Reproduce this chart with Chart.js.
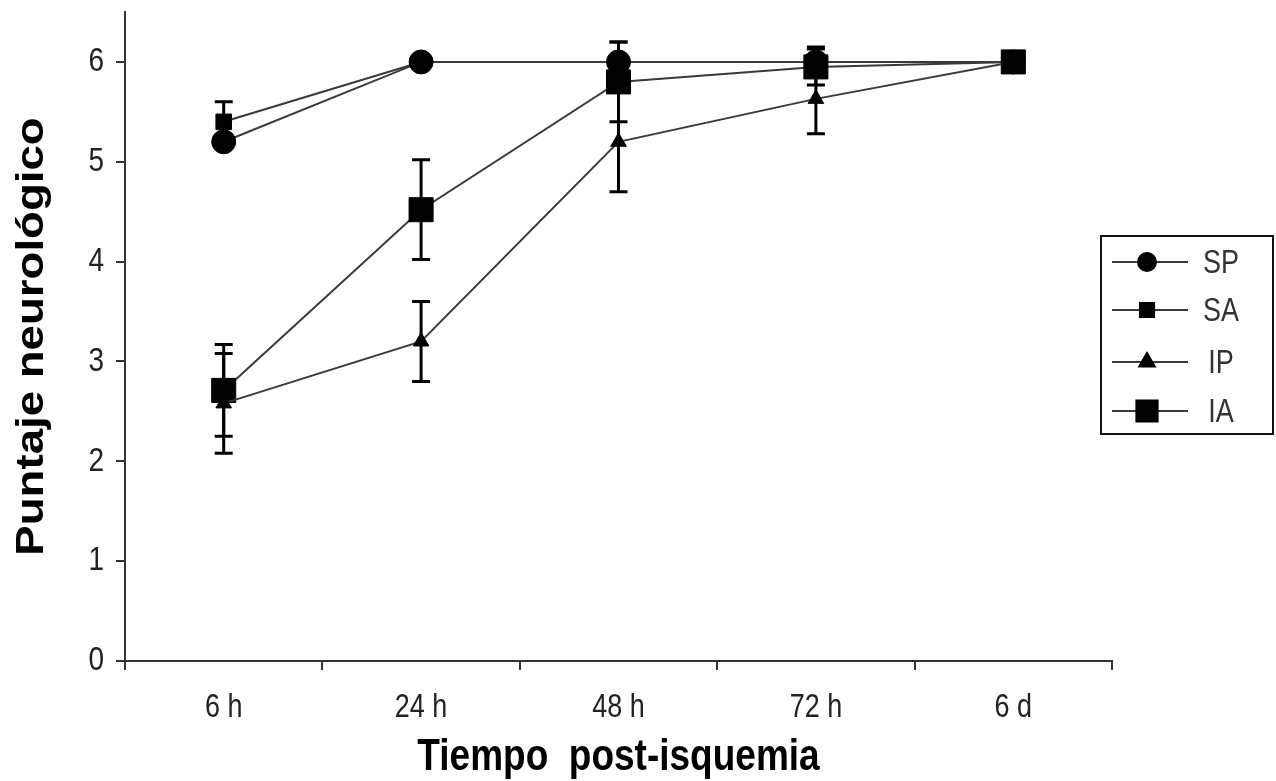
<!DOCTYPE html>
<html>
<head>
<meta charset="utf-8">
<script src="https://cdn.jsdelivr.net/npm/chart.js@4"></script>
<style>
  html, body { margin: 0; padding: 0; background: #fff; }
  #wrap { width: 1276px; height: 781px; }
</style>
</head>
<body>
<div id="wrap"><canvas id="neuroChart" width="1276" height="781"></canvas></div>
<script>
const timeLabels = ["6 h", "24 h", "48 h", "72 h", "6 d"];

const spValues = [5.2, 6.0, 6.0, 6.0, 6.0];
const saValues = [5.4, 6.0, 6.0, 6.0, 6.0];
const ipValues = [2.58, 3.2, 5.2, 5.63, 6.0];
const iaValues = [2.71, 4.52, 5.8, 5.95, 6.0];

const spErrors = [0, 0, 0.2, 0.15, 0];
const saErrors = [0.2, 0, 0, 0, 0];
const ipErrors = [0.5, 0.4, 0.5, 0.35, 0];
const iaErrors = [0.46, 0.5, 0.4, 0.18, 0];

const yTicks = [0, 1, 2, 3, 4, 5, 6];

const xTitle = 'Tiempo  post-isquemia';
const yTitle = 'Puntaje neurológico';

const lineColor = '#3a3a3a';
const fontFamily = "'Liberation Sans', Arial, sans-serif";
// the original's lettering is taller than it is wide
const textStretch = 1.2;

function tallText(ctx, text, x, y, font, align, baseline, color) {
  ctx.save();
  ctx.translate(x, y);
  ctx.scale(1, textStretch);
  ctx.font = font;
  ctx.textAlign = align;
  ctx.textBaseline = baseline;
  ctx.fillStyle = color;
  ctx.fillText(text, 0, 0);
  ctx.restore();
}

// error bars, drawn under the lines and markers
const errorBars = {
  id: 'errorBars',
  beforeDatasetsDraw(chart) {
    const { ctx, scales: { x, y } } = chart;
    ctx.save();
    ctx.strokeStyle = '#000';
    ctx.lineWidth = 3;
    chart.data.datasets.forEach(ds => {
      ds.data.forEach((v, i) => {
        const err = ds.errors[i];
        if (!err) return;
        const px = x.getPixelForValue(i);
        const top = y.getPixelForValue(v + err);
        const bot = y.getPixelForValue(v - err);
        ctx.beginPath();
        ctx.moveTo(px, top); ctx.lineTo(px, bot);
        ctx.moveTo(px - 9, top); ctx.lineTo(px + 9, top);
        ctx.moveTo(px - 9, bot); ctx.lineTo(px + 9, bot);
        ctx.stroke();
      });
    });
    ctx.restore();
  }
};

// tick labels and axis titles, positioned from the scales
const axisText = {
  id: 'axisText',
  afterDraw(chart) {
    const { ctx, scales: { x, y }, chartArea } = chart;
    yTicks.forEach(v => {
      tallText(ctx, String(v), 104, y.getPixelForValue(v), '28px ' + fontFamily, 'right', 'middle', '#222');
    });
    timeLabels.forEach((lab, i) => {
      tallText(ctx, lab, x.getPixelForValue(i), 717, '27px ' + fontFamily, 'center', 'alphabetic', '#222');
    });
    const midX = (chartArea.left + chartArea.right) / 2;
    tallText(ctx, xTitle, midX, 770, 'bold 37px ' + fontFamily, 'center', 'alphabetic', '#000');

    ctx.save();
    ctx.translate(43, (chartArea.top + chartArea.bottom) / 2);
    ctx.rotate(-Math.PI / 2);
    ctx.scale(textStretch, 1);
    ctx.font = 'bold 38px ' + fontFamily;
    ctx.textAlign = 'center';
    ctx.textBaseline = 'alphabetic';
    ctx.fillStyle = '#000';
    ctx.fillText(yTitle, 0, 0);
    ctx.restore();
  }
};

// boxed legend on the right, line through marker
const boxLegend = {
  id: 'boxLegend',
  afterDraw(chart) {
    const { ctx } = chart;
    ctx.save();
    ctx.strokeStyle = '#111';
    ctx.lineWidth = 2;
    ctx.strokeRect(1101, 236, 172, 198);
    ctx.restore();
    const rows = [262, 310, 362, 411];
    chart.data.datasets.forEach((ds, i) => {
      const yy = rows[i];
      ctx.save();
      ctx.strokeStyle = lineColor;
      ctx.lineWidth = 2;
      ctx.beginPath();
      ctx.moveTo(1112, yy); ctx.lineTo(1188, yy);
      ctx.stroke();
      ctx.fillStyle = '#000';
      ctx.strokeStyle = '#000';
      Chart.helpers.drawPoint(ctx, {
        pointStyle: ds.pointStyle,
        radius: ds.legendRadius,
        borderWidth: 1
      }, 1147, yy);
      ctx.fill();
      ctx.restore();
      tallText(ctx, ds.label, 1221, yy + 11, '27px ' + fontFamily, 'center', 'alphabetic', '#333');
    });
  }
};

function series(label, values, errors, style, radius, legendRadius) {
  return {
    label,
    data: values,
    errors,
    pointStyle: style,
    pointRadius: radius,
    pointHoverRadius: radius,
    legendRadius,
    borderColor: lineColor,
    borderWidth: 2,
    pointBackgroundColor: '#000',
    pointBorderColor: '#000',
    pointBorderWidth: 1,
    tension: 0,
    fill: false,
    clip: false
  };
}

new Chart(document.getElementById('neuroChart'), {
  type: 'line',
  data: {
    labels: timeLabels,
    datasets: [
      series('SP', spValues, spErrors, 'circle', 12, 9),
      series('SA', saValues, saErrors, 'rect', 11, 10),
      series('IP', ipValues, ipErrors, 'triangle', 9, 9),
      series('IA', iaValues, iaErrors, 'rect', 17, 15)
    ]
  },
  options: {
    responsive: false,
    animation: false,
    layout: { autoPadding: false, padding: { left: 0, right: 164, top: 12, bottom: 0 } },
    plugins: {
      legend: { display: false },
      tooltip: { enabled: false }
    },
    scales: {
      x: {
        offset: true,
        grid: {
          offset: true,
          drawOnChartArea: false,
          drawTicks: true,
          tickLength: 9,
          color: '#333',
          lineWidth: 2
        },
        border: { display: true, color: '#333', width: 2 },
        ticks: { display: false },
        afterFit(scale) { scale.height = 120; }
      },
      y: {
        min: 0,
        max: 6.5,
        afterBuildTicks(scale) {
          scale.ticks = yTicks.map(v => ({ value: v }));
        },
        grid: {
          drawOnChartArea: false,
          drawTicks: true,
          tickLength: 9,
          color: '#333',
          lineWidth: 2
        },
        border: { display: true, color: '#333', width: 2 },
        ticks: { display: false },
        afterFit(scale) { scale.width = 125; }
      }
    }
  },
  plugins: [errorBars, axisText, boxLegend]
});
</script>
</body>
</html>
